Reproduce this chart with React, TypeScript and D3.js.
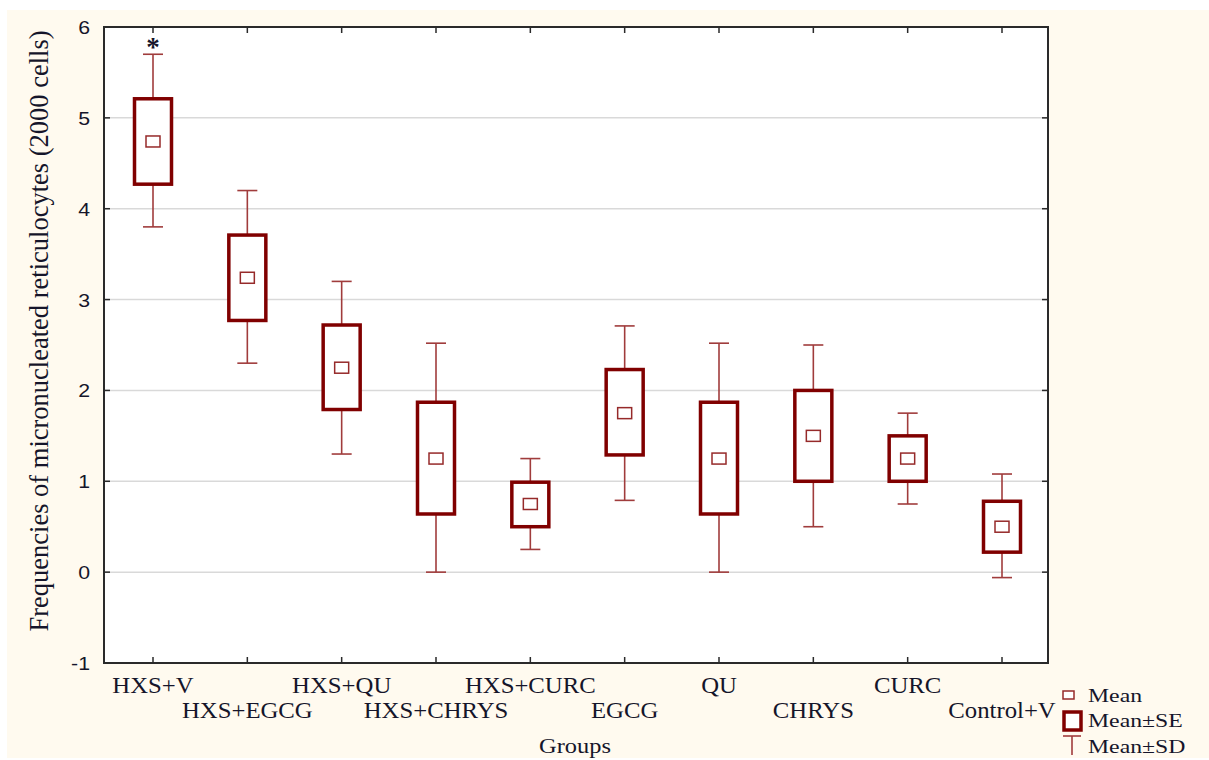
import React from 'react';
import * as d3 from 'd3';

const groups = ['HXS+V', 'HXS+EGCG', 'HXS+QU', 'HXS+CHRYS', 'HXS+CURC', 'EGCG', 'QU', 'CHRYS', 'CURC', 'Control+V'];
const means = [4.74, 3.24, 2.25, 1.25, 0.75, 1.75, 1.25, 1.5, 1.25, 0.5];
const seLow = [4.27, 2.77, 1.79, 0.64, 0.5, 1.29, 0.64, 1.0, 1.0, 0.22];
const seHigh = [5.21, 3.71, 2.72, 1.87, 0.99, 2.23, 1.87, 2.0, 1.5, 0.78];
const sdLow = [3.8, 2.3, 1.3, 0, 0.25, 0.79, 0, 0.5, 0.75, -0.06];
const sdHigh = [5.7, 4.2, 3.2, 2.52, 1.25, 2.71, 2.52, 2.5, 1.75, 1.08];
const yTicks = [-1, 0, 1, 2, 3, 4, 5, 6];
const starred = ['HXS+V'];

const frame = { left: 104, right: 1048, top: 27, bottom: 663 };
const boxColor = '#800000';
const whiskColor = '#a03c3c';
const textColor = '#15152a';
const serif = '"Liberation Serif", "Times New Roman", serif';
const sans = '"Liberation Sans", Arial, sans-serif';

// stretched text, the source image is wider than tall
const SText = ({ x, y, sx = 1.1, size, anchor = 'middle', family = serif, rotate = 0, weight = 'normal', children }: any) => (
  <g transform={`translate(${x},${y}) scale(${sx},1)${rotate ? ` rotate(${rotate})` : ''}`}>
    <text textAnchor={anchor} fontFamily={family} fontSize={size} fontWeight={weight} fill={textColor}>{children}</text>
  </g>
);

export default function App() {
  const x = d3.scalePoint<string>().domain(groups).range([153, 1002]);
  const y = d3.scaleLinear().domain([-1, 6]).range([frame.bottom, frame.top]);
  const boxW = 37;
  const capW = 20;

  return (
    <svg width={1209} height={760} style={{ position: 'absolute', left: 0, top: 0 }}>
      <rect x={0} y={0} width={1209} height={760} fill="#fff" />
      <rect x={7} y={10} width={1202} height={748} fill="#fffaef" />
      <rect x={frame.left} y={frame.top} width={frame.right - frame.left} height={frame.bottom - frame.top} fill="#fff" />

      {yTicks.filter(t => t > -1 && t < 6).map(t => (
        <line key={'g' + t} x1={frame.left} x2={frame.right} y1={y(t)} y2={y(t)} stroke="#d9d9d9" strokeWidth={1.5} />
      ))}

      {groups.map((g, i) => {
        const cx = x(g)!;
        return (
          <g key={g}>
            <line x1={cx} x2={cx} y1={y(seHigh[i])} y2={y(sdHigh[i])} stroke={whiskColor} strokeWidth={1.6} />
            <line x1={cx} x2={cx} y1={y(seLow[i])} y2={y(sdLow[i])} stroke={whiskColor} strokeWidth={1.6} />
            <line x1={cx - capW / 2} x2={cx + capW / 2} y1={y(sdHigh[i])} y2={y(sdHigh[i])} stroke={whiskColor} strokeWidth={1.6} />
            <line x1={cx - capW / 2} x2={cx + capW / 2} y1={y(sdLow[i])} y2={y(sdLow[i])} stroke={whiskColor} strokeWidth={1.6} />
            <rect x={cx - boxW / 2} y={y(seHigh[i])} width={boxW} height={y(seLow[i]) - y(seHigh[i])}
              fill="#fff" stroke={boxColor} strokeWidth={3.5} />
            <rect x={cx - 7} y={y(means[i]) - 5.5} width={14} height={11} fill="#fff" stroke="#962a2a" strokeWidth={1.5} />
            {starred.includes(g) && (
              <SText x={cx} y={y(sdHigh[i]) + 2} size={27} sx={1} weight="bold">*</SText>
            )}
          </g>
        );
      })}

      {/* frame and inward ticks */}
      <rect x={frame.left} y={frame.top} width={frame.right - frame.left} height={frame.bottom - frame.top}
        fill="none" stroke="#2a2a2a" strokeWidth={2} />
      {yTicks.map(t => (
        <g key={'t' + t}>
          <line x1={frame.left} x2={frame.left + 6} y1={y(t)} y2={y(t)} stroke="#2a2a2a" strokeWidth={1.5} />
          <line x1={frame.right - 6} x2={frame.right} y1={y(t)} y2={y(t)} stroke="#2a2a2a" strokeWidth={1.5} />
          <SText x={90} y={y(t) + 7} size={19} sx={1.12} anchor="end" family={sans}>{t}</SText>
        </g>
      ))}
      {groups.map((g, i) => (
        <g key={'x' + g}>
          <line x1={x(g)} x2={x(g)} y1={frame.bottom} y2={frame.bottom - 6} stroke="#2a2a2a" strokeWidth={1.5} />
          <line x1={x(g)} x2={x(g)} y1={frame.top} y2={frame.top + 6} stroke="#2a2a2a" strokeWidth={1.5} />
          <SText x={x(g)} y={i % 2 === 0 ? 693 : 718} size={22.5}>{g}</SText>
        </g>
      ))}

      <SText x={575} y={753} size={20} sx={1.22}>Groups</SText>
      <SText x={48} y={331} size={26.5} sx={1} rotate={-90}>Frequencies of micronucleated reticulocytes (2000 cells)</SText>

      {/* legend */}
      <rect x={1063} y={691} width={11} height={8} fill="#fff" stroke="#962a2a" strokeWidth={1.5} />
      <SText x={1088} y={702} size={18} sx={1.32} anchor="start">Mean</SText>
      <rect x={1064} y={712} width={17} height={18} fill="#fff" stroke={boxColor} strokeWidth={3.5} />
      <SText x={1088} y={727} size={18} sx={1.32} anchor="start">Mean±SE</SText>
      <line x1={1063} x2={1081} y1={736} y2={736} stroke={whiskColor} strokeWidth={1.6} />
      <line x1={1072} x2={1072} y1={736} y2={755} stroke={whiskColor} strokeWidth={1.6} />
      <SText x={1088} y={753} size={18} sx={1.32} anchor="start">Mean±SD</SText>
    </svg>
  );
}
